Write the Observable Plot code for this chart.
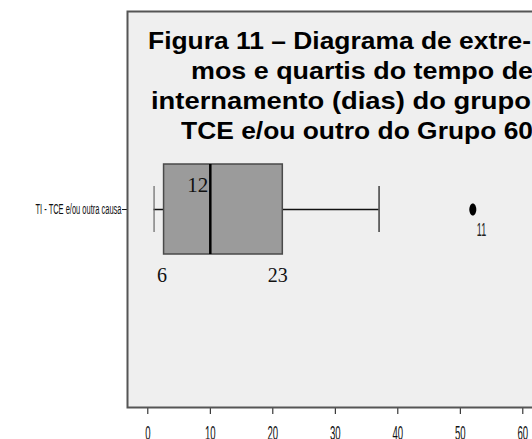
<!DOCTYPE html>
<html>
<head>
<meta charset="utf-8">
<script src="https://cdn.jsdelivr.net/npm/d3@7"></script>
<script src="https://cdn.jsdelivr.net/npm/@observablehq/plot@0.6"></script>
<style>
  html, body { margin: 0; padding: 0; background: #fff; overflow: hidden; }
  #wrap { position: relative; width: 532px; height: 439px; overflow: hidden; }
  #chart { position: absolute; left: 0; top: 0; width: 600px; height: 439px; }
  #chart svg { max-width: none !important; width: 600px !important; height: 439px !important; }
  #title { position: absolute; left: 0; top: 0; width: 532px; height: 150px;
    font-family: "Liberation Sans", Arial, sans-serif; font-weight: bold; font-size: 24px;
    line-height: 30px; color: #000; white-space: nowrap; pointer-events: none; }
  #title div { position: absolute; transform-origin: 0 0; }
</style>
</head>
<body>
<div id="wrap">
  <div id="chart"></div>
  <div id="title"></div>
</div>
<script>
// ---- data ----
const categories = ["TI - TCE e/ou outra causa"];
const whiskerLow = [1.0];
const q1 = [2.6];
const median = [10.0];
const q3 = [21.6];
const whiskerHigh = [37.0];
const outlierValues = [52.0];
const outlierLabels = ["11"];
const caseLabels = ["12", "6", "23"];
const xTicks = [0, 10, 20, 30, 40, 50, 60];
const titleLines = [
  "Figura 11 – Diagrama de extre-",
  "mos e quartis do tempo de",
  "internamento (dias) do grupo",
  "TCE e/ou outro do Grupo 60"
];

// ---- tables ----
const stats = categories.map((c, i) => ({
  cat: c, lo: whiskerLow[i], q1: q1[i], med: median[i], q3: q3[i], hi: whiskerHigh[i]
}));
const outliers = outlierValues.map((v, i) => ({cat: categories[0], v, label: outlierLabels[i]}));
const s = stats[0];
const medLabel = [{cat: s.cat, v: s.med, label: caseLabels[0]}];
const q1Label = [{cat: s.cat, v: s.q1, label: caseLabels[1]}];
const q3Label = [{cat: s.cat, v: s.q3, label: caseLabels[2]}];

// ellipse symbol for the outlier
const ellipse = {
  draw(ctx) {
    const rx = 3.5, ry = 6, k = 0.5523;
    ctx.moveTo(rx, 0);
    ctx.bezierCurveTo(rx, ry * k, rx * k, ry, 0, ry);
    ctx.bezierCurveTo(-rx * k, ry, -rx, ry * k, -rx, 0);
    ctx.bezierCurveTo(-rx, -ry * k, -rx * k, -ry, 0, -ry);
    ctx.bezierCurveTo(rx * k, -ry, rx, -ry * k, rx, 0);
    ctx.closePath();
  }
};

const boxInset = 153;
const capInset = 175;
const serif = "'Liberation Serif', 'Times New Roman', serif";
const sans = "'Liberation Sans', Arial, sans-serif";

const plot = Plot.plot({
  width: 600,
  height: 439,
  marginLeft: 127,
  marginRight: 0,
  marginTop: 11,
  marginBottom: 32,
  style: {fontFamily: sans, background: "transparent", color: "#111"},
  x: {domain: [-3.25, 72.43], ticks: xTicks, tickSize: 7, tickPadding: 11, label: null, tickFormat: d => String(d)},
  y: {domain: categories, tickSize: 5, tickPadding: 1, label: null, padding: 0},
  marks: [
    Plot.frame({fill: "#efefef", stroke: "#555", strokeWidth: 2}),
    Plot.ruleY(stats, {y: "cat", x1: "lo", x2: "hi", stroke: "#111", strokeWidth: 1.6}),
    Plot.tickX(stats, {x: "lo", y: "cat", stroke: "#666", strokeWidth: 1.2, insetTop: capInset, insetBottom: capInset}),
    Plot.tickX(stats, {x: "hi", y: "cat", stroke: "#333", strokeWidth: 1.4, insetTop: capInset, insetBottom: capInset}),
    Plot.barX(stats, {x1: "q1", x2: "q3", y: "cat", fill: "#9b9b9b", stroke: "#4a4a4a", strokeWidth: 1.5, insetTop: boxInset, insetBottom: boxInset}),
    Plot.tickX(stats, {x: "med", y: "cat", stroke: "#000", strokeWidth: 2.5, insetTop: boxInset, insetBottom: boxInset}),
    Plot.dot(outliers, {x: "v", y: "cat", symbol: ellipse, fill: "#000", stroke: null, r: 4}),
    Plot.text(outliers, {x: "v", y: "cat", text: "label", textAnchor: "start", lineAnchor: "bottom", dx: 4, dy: 26, fontSize: 18, fontFamily: sans, fill: "#222"}),
    Plot.text(medLabel, {x: "v", y: "cat", text: "label", textAnchor: "end", lineAnchor: "bottom", dx: -2, dy: -17.5, fontSize: 21, fontFamily: serif, fill: "#111"}),
    Plot.text(q1Label, {x: "v", y: "cat", text: "label", textAnchor: "middle", lineAnchor: "bottom", dx: -2, dy: 72.5, fontSize: 20, fontFamily: serif, fill: "#111"}),
    Plot.text(q3Label, {x: "v", y: "cat", text: "label", textAnchor: "middle", lineAnchor: "bottom", dx: -5, dy: 72.5, fontSize: 20, fontFamily: serif, fill: "#111"})
  ]
});
document.getElementById("chart").appendChild(plot);

// condense the narrow SPSS-style texts
function condenseText(t, sx, fontSize) {
  if (fontSize) t.setAttribute("font-size", fontSize);
  let tr = t.getAttribute("transform");
  if (!tr) {
    const x = t.getAttribute("x") || 0, y = t.getAttribute("y") || 0;
    t.removeAttribute("x"); t.removeAttribute("y");
    tr = `translate(${x},${y})`;
  }
  t.setAttribute("transform", tr + ` scale(${sx},1)`);
}
plot.querySelectorAll('g[aria-label^="x-axis"] text').forEach(t => condenseText(t, 0.48, 20));
plot.querySelectorAll('g[aria-label^="y-axis"] text').forEach(t => condenseText(t, 0.5, 15));
plot.querySelectorAll('text').forEach(t => {
  if (outlierLabels.includes(t.textContent.trim())) condenseText(t, 0.5, 18);
});

// title lines (inside the frame)
const lefts = [148, 191, 151, 181];
const tops = [25.7, 55.7, 85.7, 115.7];
const stretch = [1.1, 1.12, 1.14, 1.1];
const tdiv = document.getElementById("title");
titleLines.forEach((line, i) => {
  const d = document.createElement("div");
  d.textContent = line;
  d.style.left = lefts[i] + "px";
  d.style.top = tops[i] + "px";
  d.style.transform = `scaleX(${stretch[i]})`;
  tdiv.appendChild(d);
});
</script>
</body>
</html>
